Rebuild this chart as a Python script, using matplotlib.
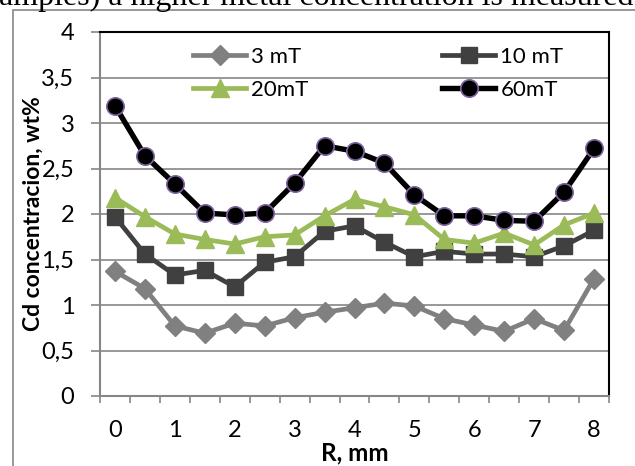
import numpy as np
import matplotlib.pyplot as plt
from matplotlib.patches import Rectangle
from matplotlib.ticker import FixedLocator

plt.rcParams['font.family'] = ['Lato', 'DejaVu Sans']

# radius positions (one category per 0.5 mm) and Cd content, wt%
r_mm = [0, 0.5, 1, 1.5, 2, 2.5, 3, 3.5, 4, 4.5, 5, 5.5, 6, 6.5, 7, 7.5, 8]
cd_3mT = [1.37, 1.18, 0.77, 0.69, 0.80, 0.77, 0.86, 0.92, 0.97, 1.02, 0.99, 0.85, 0.78, 0.71, 0.85, 0.72, 1.29]
cd_10mT = [1.97, 1.56, 1.33, 1.38, 1.20, 1.47, 1.53, 1.81, 1.87, 1.69, 1.53, 1.59, 1.56, 1.56, 1.53, 1.65, 1.82]
cd_20mT = [2.18, 1.97, 1.78, 1.72, 1.67, 1.75, 1.77, 1.98, 2.16, 2.08, 1.99, 1.72, 1.68, 1.79, 1.66, 1.88, 2.01]
cd_60mT = [3.19, 2.64, 2.33, 2.01, 1.99, 2.01, 2.34, 2.75, 2.69, 2.56, 2.21, 1.98, 1.98, 1.93, 1.92, 2.24, 2.72]

y_ticks = [0, 0.5, 1, 1.5, 2, 2.5, 3, 3.5, 4]
y_labels = ['0', '0,5', '1', '1,5', '2', '2,5', '3', '3,5', '4']

GRAY = '#868686'

fig = plt.figure(figsize=(6.35, 4.66), dpi=100)

# chart-area border (cut by the screenshot on the right/bottom) and the
# sentence from the page above it
fig.patches.append(Rectangle((13 / 635, -0.1), 1.2, 1 - 10 / 466 + 0.1,
                             transform=fig.transFigure, fill=False,
                             edgecolor=GRAY, linewidth=1.2))
fig.text(-0.002, 1 - 4.5 / 466, 'amples) a higher metal concentration is measured',
         family='Liberation Serif', fontsize=23, va='baseline', ha='left')

ax = fig.add_axes([100 / 635, 70 / 466, 509 / 635, 364 / 466])

x = np.arange(len(r_mm))

ax.plot(x, cd_3mT, color='#808080', lw=3.4, marker='D', ms=10.5,
        label='3 mT')
ax.plot(x, cd_10mT, color='#404040', lw=3.4, marker='s', ms=12,
        label='10 mT')
ax.plot(x, cd_20mT, color='#9BBB59', lw=3.4, marker='^', ms=13,
        label='20mT')
ax.plot(x, cd_60mT, color='black', lw=3.9, marker='o', ms=12.5,
        markerfacecolor='black', markeredgecolor='#8064A2', markeredgewidth=1.2,
        label='60mT')

ax.set_xlim(-0.5, len(r_mm) - 0.5)
ax.set_ylim(0, 4)

ax.set_yticks(y_ticks)
ax.set_yticklabels(y_labels)
ax.yaxis.grid(True, color=GRAY, lw=1.2)
ax.set_axisbelow(True)

major = x[::2]
ax.xaxis.set_major_locator(FixedLocator(major))
ax.set_xticklabels([f'{r:g}' for r in r_mm[::2]])
ax.xaxis.set_minor_locator(FixedLocator(np.arange(len(r_mm) + 1) - 0.5))

ax.tick_params(axis='y', direction='out', length=6.5, width=1.2, color=GRAY,
               labelsize=17, pad=12)
ax.tick_params(axis='x', which='major', length=0, labelsize=17, pad=17)
ax.tick_params(axis='x', which='minor', direction='out', length=5, width=1.2,
               color=GRAY)

for side in ['left', 'bottom']:
    ax.spines[side].set_color(GRAY)
    ax.spines[side].set_linewidth(1.5)
for side in ['top', 'right']:
    ax.spines[side].set_color('black')
    ax.spines[side].set_linewidth(1.5)

ax.set_xlabel('R, mm', fontsize=17.5, fontweight='bold', labelpad=0.5)
ax.set_ylabel('Cd concentracion, wt%', fontsize=16.5, fontweight='bold')
ax.yaxis.set_label_coords(-0.11, 0.5)

h, l = ax.get_legend_handles_labels()
order = [0, 2, 1, 3]
ax.legend([h[i] for i in order], [l[i] for i in order], ncol=2,
          loc='upper left', bbox_to_anchor=(0.183, 0.96), frameon=False,
          fontsize=16, handlelength=2.4, handletextpad=0.22,
          columnspacing=6.0, labelspacing=0.6, borderpad=0,
          borderaxespad=0)

plt.savefig('out.png', dpi=100)
plt.close()
